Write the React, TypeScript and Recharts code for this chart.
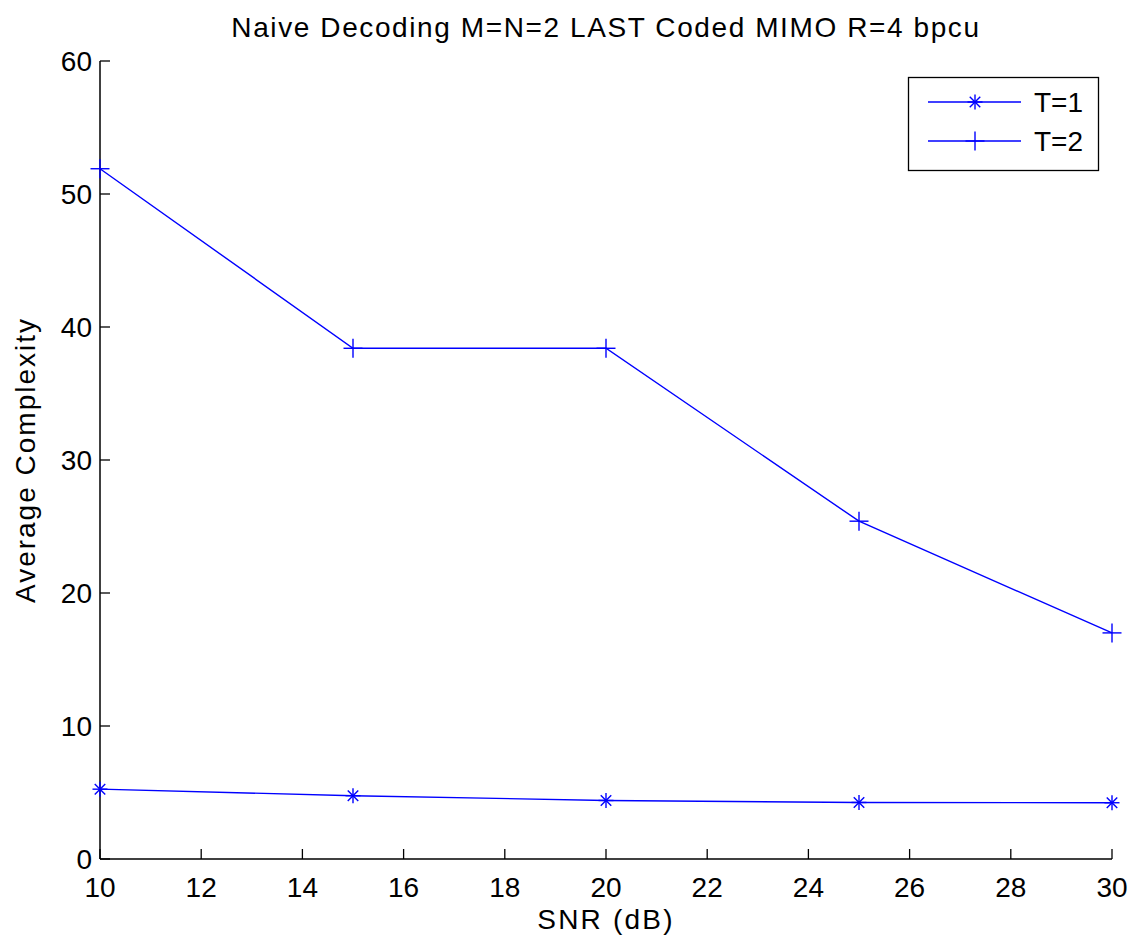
import React from 'react';
import { LineChart, Line, XAxis, YAxis, Legend } from 'recharts';

const snr = [10, 15, 20, 25, 30];
const t1Values = [5.25, 4.76, 4.4, 4.25, 4.23];
const t2Values = [51.9, 38.4, 38.4, 25.4, 17.0];
const xTicks = [10, 12, 14, 16, 18, 20, 22, 24, 26, 28, 30];
const yTicks = [0, 10, 20, 30, 40, 50, 60];
const seriesNames = ['T=1', 'T=2'];

const data = snr.map((x, i) => ({ snr: x, t1: t1Values[i], t2: t2Values[i] }));

const FONT = '"Liberation Sans", Arial, Helvetica, sans-serif';
const BLUE = '#0000ff';

const Plus = ({ cx, cy, h = 9.5 }: any) => (
  <g stroke={BLUE} strokeWidth={1.4}>
    <line x1={cx - h} y1={cy} x2={cx + h} y2={cy} />
    <line x1={cx} y1={cy - h} x2={cx} y2={cy + h} />
  </g>
);

const Star = ({ cx, cy, h = 7.5 }: any) => {
  const d = h * 0.7;
  return (
    <g stroke={BLUE} strokeWidth={1.4}>
      <line x1={cx - h} y1={cy} x2={cx + h} y2={cy} />
      <line x1={cx} y1={cy - h} x2={cx} y2={cy + h} />
      <line x1={cx - d} y1={cy - d} x2={cx + d} y2={cy + d} />
      <line x1={cx - d} y1={cy + d} x2={cx + d} y2={cy - d} />
    </g>
  );
};

const LegendBox = () => (
  <svg width={192} height={95} style={{ display: 'block', overflow: 'visible' }}>
    <rect x={0.5} y={0.5} width={190} height={93} fill="#fff" stroke="#000" strokeWidth={1.3} />
    {seriesNames.map((name, i) => {
      const y = 25 + i * 39;
      return (
        <g key={name}>
          <line x1={20} y1={y} x2={113} y2={y} stroke={BLUE} strokeWidth={1.3} />
          {i === 0 ? <Star cx={67} cy={y} /> : <Plus cx={67} cy={y} />}
          <text x={126} y={y + 10} fontFamily={FONT} fontSize={28} fill="#000">
            {name}
          </text>
        </g>
      );
    })}
  </svg>
);

const tickStyle = { fontFamily: FONT, fontSize: 28, fill: '#000' };

export default function App() {
  return (
    <div style={{ position: 'absolute', left: 0, top: 0, width: 1135, height: 942, background: '#fff' }}>
      <LineChart
        width={1135}
        height={942}
        data={data}
        margin={{ top: 61, right: 23, bottom: 33, left: 40 }}
      >
        <XAxis
          xAxisId="bottom"
          dataKey="snr"
          type="number"
          domain={[10, 30]}
          ticks={xTicks}
          height={50}
          tickSize={-10}
          tickMargin={28}
          tick={tickStyle}
          axisLine={{ stroke: '#000', strokeWidth: 1.5 }}
          tickLine={{ stroke: '#000', strokeWidth: 1.3 }}
        />
        <XAxis
          xAxisId="top"
          dataKey="snr"
          type="number"
          orientation="top"
          domain={[10, 30]}
          ticks={xTicks}
          height={0}
          tickSize={-10}
          tickFormatter={() => ''}
          axisLine={{ stroke: '#000', strokeWidth: 1.5 }}
          tickLine={{ stroke: '#000', strokeWidth: 1.3 }}
        />
        <YAxis
          yAxisId="left"
          type="number"
          domain={[0, 60]}
          ticks={yTicks}
          width={60}
          tickSize={-10}
          tickMargin={18}
          tick={tickStyle}
          axisLine={{ stroke: '#000', strokeWidth: 1.5 }}
          tickLine={{ stroke: '#000', strokeWidth: 1.3 }}
        />
        <YAxis
          yAxisId="right"
          orientation="right"
          type="number"
          domain={[0, 60]}
          ticks={yTicks}
          width={0}
          tickSize={-10}
          tickFormatter={() => ''}
          axisLine={{ stroke: '#000', strokeWidth: 1.5 }}
          tickLine={{ stroke: '#000', strokeWidth: 1.3 }}
        />
        <Line
          xAxisId="bottom"
          yAxisId="left"
          dataKey="t1"
          name={seriesNames[0]}
          stroke={BLUE}
          strokeWidth={1.4}
          dot={(p: any) => <Star key={`s${p.index}`} cx={p.cx} cy={p.cy} />}
          isAnimationActive={false}
        />
        <Line
          xAxisId="bottom"
          yAxisId="left"
          dataKey="t2"
          name={seriesNames[1]}
          stroke={BLUE}
          strokeWidth={1.4}
          dot={(p: any) => <Plus key={`p${p.index}`} cx={p.cx} cy={p.cy} />}
          isAnimationActive={false}
        />
        <Legend
          content={() => <LegendBox />}
          wrapperStyle={{ position: 'absolute', left: 908, top: 77, width: 0, height: 0, overflow: 'visible' }}
        />
      </LineChart>
      <svg
        width={1135}
        height={942}
        style={{ position: 'absolute', left: 0, top: 0, pointerEvents: 'none' }}
      >
        <text x={606} y={37} textAnchor="middle" fontFamily={FONT} fontSize={28} letterSpacing={1.6} fill="#000">
          Naive Decoding M=N=2 LAST Coded MIMO R=4 bpcu
        </text>
        <text x={606} y={929} textAnchor="middle" fontFamily={FONT} fontSize={28} letterSpacing={2.2} fill="#000">
          SNR (dB)
        </text>
        <text
          x={0}
          y={0}
          transform="translate(35,460) rotate(-90)"
          textAnchor="middle"
          fontFamily={FONT}
          fontSize={28}
          letterSpacing={2}
          fill="#000"
        >
          Average Complexity
        </text>
      </svg>
    </div>
  );
}
